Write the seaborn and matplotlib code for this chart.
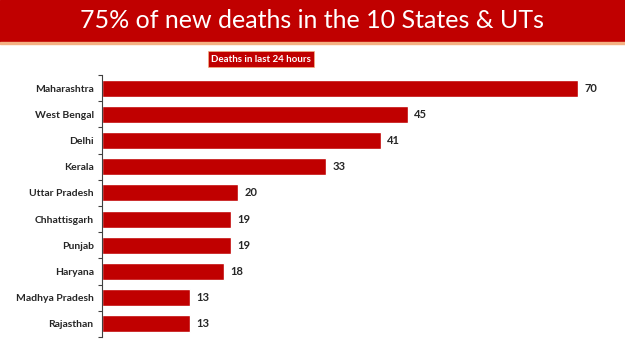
import matplotlib
matplotlib.use("Agg")
import matplotlib.pyplot as plt
import seaborn as sns
import pandas as pd
import numpy as np

states = ["Maharashtra", "West Bengal", "Delhi", "Kerala", "Uttar Pradesh",
          "Chhattisgarh", "Punjab", "Haryana", "Madhya Pradesh", "Rajasthan"]
deaths = [70, 45, 41, 33, 20, 19, 19, 18, 13, 13]

title = "75% of new deaths in the 10 States & UTs"
subtitle = "Deaths in last 24 hours"

red = "#C00000"

sns.set_style("white")
plt.rcParams["font.family"] = ["Lato", "DejaVu Sans"]

df = pd.DataFrame({"state": states, "deaths": deaths})

fig = plt.figure(figsize=(6.25, 3.51), dpi=100)

# header band
fig.patches.append(plt.Rectangle((0, 1 - 42 / 351), 1, 42 / 351, transform=fig.transFigure,
                                 color=red, zorder=0))
fig.patches.append(plt.Rectangle((0, 1 - 44 / 351), 1, 2 / 351, transform=fig.transFigure,
                                 color="#F4B183", zorder=0))
fig.text(0.5, 1 - 21 / 351, title, ha="center", va="center", color="white", fontsize=18)
fig.text(261 / 625, 1 - 59 / 351, subtitle, ha="center", va="center", color="white",
         fontsize=7, fontweight="bold",
         bbox=dict(boxstyle="square,pad=0.35", fc=red, ec="#F4B183", lw=0.5))

ax = fig.add_axes([102 / 625, 14 / 351, 508 / 625, 262 / 351])
sns.barplot(data=df, x="deaths", y="state", orient="h", color=red, width=0.65,
            saturation=1, ax=ax)

ax.set_xlim(0, 74.7)
ax.set_xlabel("")
ax.set_ylabel("")
ax.set_xticks([])
for s in ["top", "right", "bottom"]:
    ax.spines[s].set_visible(False)
ax.spines["left"].set_color("#404040")
ax.spines["left"].set_linewidth(0.8)

ax.tick_params(axis="y", which="major", left=False, length=0, pad=6, labelsize=7.5)
for lbl in ax.get_yticklabels():
    lbl.set_fontweight("bold")
ax.set_yticks(np.arange(-0.5, len(states), 1), minor=True)
ax.tick_params(axis="y", which="minor", left=True, direction="out", length=3,
               color="#404040", width=0.8)

for i, v in enumerate(deaths):
    ax.text(v + 0.9, i, str(v), va="center", ha="left", fontsize=8, fontweight="bold")

fig.savefig("out.png", dpi=100)
